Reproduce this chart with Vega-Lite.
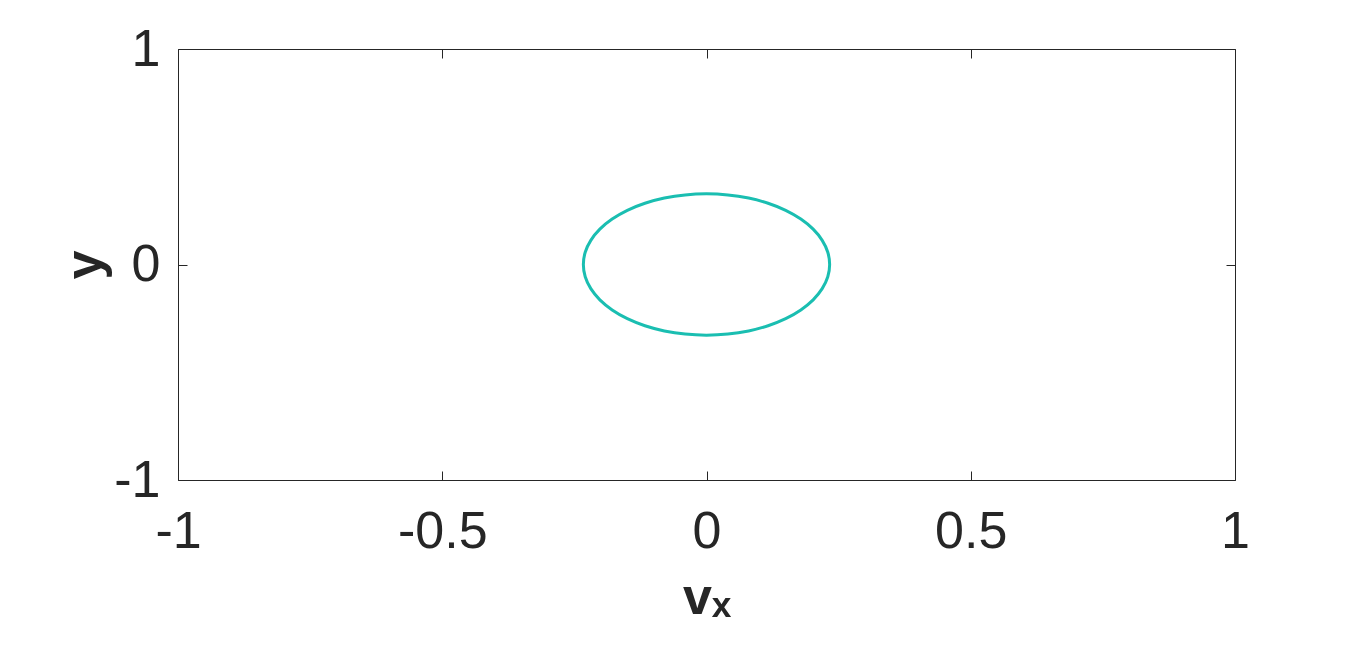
{
  "$schema": "https://vega.github.io/schema/vega-lite/v6.json",
  "autosize": {"type": "none"},
  "width": 1057,
  "height": 431,
  "padding": {"left": 178, "top": 49, "right": 131, "bottom": 171},
  "background": "white",
  "config": {
    "font": "Liberation Sans",
    "view": {"stroke": "#262626", "strokeWidth": 1},
    "axis": {
      "domain": false,
      "grid": false,
      "labelFont": "Liberation Sans",
      "labelFontSize": 52,
      "labelColor": "#262626",
      "tickColor": "#262626",
      "tickWidth": 1,
      "titleFont": "Liberation Sans",
      "titleFontSize": 52,
      "titleFontWeight": "bold",
      "titleColor": "#262626",
      "labelOverlap": false,
      "labelFlush": false
    }
  },
  "data": {
    "values": [
      {"t": 0, "vx": 0.233, "y": 0},
      {"t": 10, "vx": 0.2295, "y": 0.057},
      {"t": 20, "vx": 0.2189, "y": 0.1122},
      {"t": 30, "vx": 0.2018, "y": 0.164},
      {"t": 40, "vx": 0.1785, "y": 0.2108},
      {"t": 50, "vx": 0.1498, "y": 0.2513},
      {"t": 60, "vx": 0.1165, "y": 0.2841},
      {"t": 70, "vx": 0.0797, "y": 0.3082},
      {"t": 80, "vx": 0.0405, "y": 0.323},
      {"t": 90, "vx": 0, "y": 0.328},
      {"t": 100, "vx": -0.0405, "y": 0.323},
      {"t": 110, "vx": -0.0797, "y": 0.3082},
      {"t": 120, "vx": -0.1165, "y": 0.2841},
      {"t": 130, "vx": -0.1498, "y": 0.2513},
      {"t": 140, "vx": -0.1785, "y": 0.2108},
      {"t": 150, "vx": -0.2018, "y": 0.164},
      {"t": 160, "vx": -0.2189, "y": 0.1122},
      {"t": 170, "vx": -0.2295, "y": 0.057},
      {"t": 180, "vx": -0.233, "y": 0},
      {"t": 190, "vx": -0.2295, "y": -0.057},
      {"t": 200, "vx": -0.2189, "y": -0.1122},
      {"t": 210, "vx": -0.2018, "y": -0.164},
      {"t": 220, "vx": -0.1785, "y": -0.2108},
      {"t": 230, "vx": -0.1498, "y": -0.2513},
      {"t": 240, "vx": -0.1165, "y": -0.2841},
      {"t": 250, "vx": -0.0797, "y": -0.3082},
      {"t": 260, "vx": -0.0405, "y": -0.323},
      {"t": 270, "vx": 0, "y": -0.328},
      {"t": 280, "vx": 0.0405, "y": -0.323},
      {"t": 290, "vx": 0.0797, "y": -0.3082},
      {"t": 300, "vx": 0.1165, "y": -0.2841},
      {"t": 310, "vx": 0.1498, "y": -0.2513},
      {"t": 320, "vx": 0.1785, "y": -0.2108},
      {"t": 330, "vx": 0.2018, "y": -0.164},
      {"t": 340, "vx": 0.2189, "y": -0.1122},
      {"t": 350, "vx": 0.2295, "y": -0.057}
    ]
  },
  "layer": [
    {
      "mark": {"type": "line", "interpolate": "cardinal-closed", "color": "#1ABEB1", "strokeWidth": 3},
      "encoding": {
        "x": {
          "field": "vx", "type": "quantitative",
          "scale": {"domain": [-1, 1], "nice": false, "zero": false},
          "axis": {
            "orient": "bottom",
            "title": "vₓ",
            "values": [-1, -0.5, 0, 0.5, 1],
            "labelExpr": "'' + datum.value",
            "ticks": true,
            "tickSize": -9,
            "labelPadding": 35,
            "titlePadding": 15
          }
        },
        "y": {
          "field": "y", "type": "quantitative",
          "scale": {"domain": [-1, 1], "nice": false, "zero": false},
          "axis": {
            "orient": "left",
            "title": "y",
            "values": [-1, 0, 1],
            "labelExpr": "'' + datum.value",
            "ticks": true,
            "tickSize": -9,
            "labelPadding": 27,
            "titlePadding": 2
          }
        },
        "order": {"field": "t", "type": "quantitative"}
      }
    },
    {
      "mark": {"type": "line", "opacity": 0},
      "encoding": {
        "x": {
          "field": "vx", "type": "quantitative",
          "axis": {"orient": "top", "title": null, "labels": false, "values": [-1, -0.5, 0, 0.5, 1], "tickSize": -9}
        },
        "y": {
          "field": "y", "type": "quantitative",
          "axis": {"orient": "right", "title": null, "labels": false, "values": [-1, 0, 1], "tickSize": -9}
        },
        "order": {"field": "t", "type": "quantitative"}
      }
    }
  ],
  "resolve": {"axis": {"x": "independent", "y": "independent"}}
}
